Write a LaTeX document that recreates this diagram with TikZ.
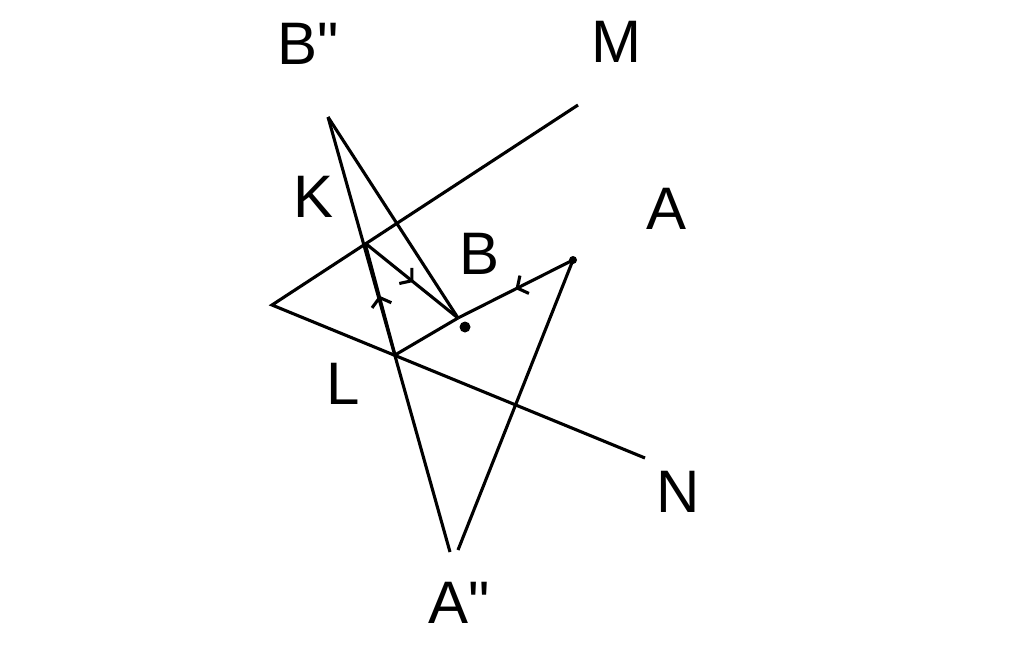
\documentclass[tikz,border=0pt]{standalone}
\usepackage{fontspec}
\setmainfont{Liberation Sans}[Ligatures=TeXOff]
\usetikzlibrary{arrows.meta,decorations.markings}
\tikzset{
	ray/.style={postaction={decorate},decoration={markings,mark=at position #1 with {\arrow{Straight Barb[length=8pt,width=20pt]}}}},
	lbl/.style={inner sep=0pt,font=\fontsize{60}{64}\selectfont}
}
\begin{document}
\begin{tikzpicture}[x=1pt,y=-1pt,line width=3.1pt]
			%%%%% START %%%%%
			\useasboundingbox (0,0) rectangle (1024,656);
			
			\coordinate (O) at (272, 305);
			\coordinate (Mend) at (578, 105);
			\coordinate (Nend) at (645, 458);
			\coordinate (K) at (365, 243);
			\coordinate (L) at (395, 355);
			\coordinate (B) at (458, 318);
			\coordinate (A) at (573, 260);
			\coordinate (Bpp) at (328, 117);
			\coordinate (App1) at (450, 552);
			\coordinate (App2) at (458, 550);
			
			% sides of the angle
			\draw (Mend) -- (O) -- (Nend);
			
			% images
			\draw (Bpp) -- (App1);
			\draw (A) -- (App2);
			\draw (Bpp) -- (B);
			
			% ray
			\draw[ray=0.5] (A) -- (B);
			\draw (B) -- (L);
			\draw[ray=0.53] (L) -- (K);
			\draw[ray=0.52] (K) -- (B);
			\fill (465, 327) circle (5.5);
			\fill (A) circle (4);
			
			\node[lbl] (lBpp) at (308, 44) {B"};
			\node[lbl] (lM) at (616, 42) {M};
			\node[lbl] (lK) at (314, 197) {K};
			\node[lbl] (lA) at (666, 209) {A};
			\node[lbl] (lB) at (480, 254) {B};
			\node[lbl] (lL) at (343, 384) {L};
			\node[lbl] (lN) at (678, 492) {N};
			\node[lbl] (lApp) at (459, 603) {A"};
			%%%%% END %%%%%
\end{tikzpicture}
\end{document}
